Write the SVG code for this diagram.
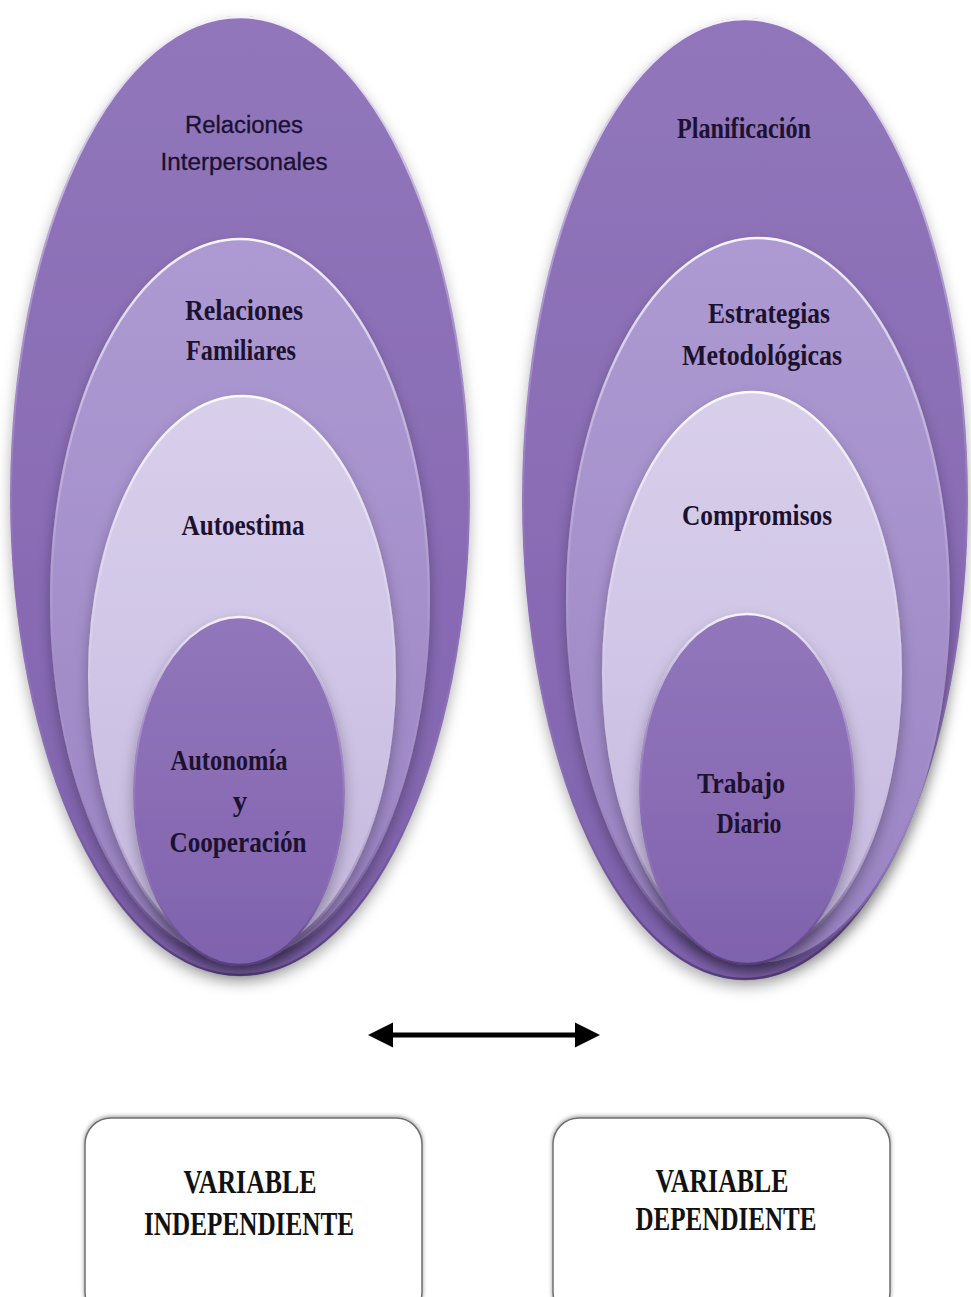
<svg xmlns="http://www.w3.org/2000/svg" width="971" height="1297" viewBox="0 0 971 1297">
<defs>
<linearGradient id="gDark" x1="0" y1="0" x2="0" y2="1">
<stop offset="0" stop-color="#9176bb"/><stop offset="0.5" stop-color="#8a6db5"/><stop offset="1" stop-color="#7f62ad"/>
</linearGradient>
<linearGradient id="gMid" x1="0" y1="0" x2="0" y2="1">
<stop offset="0" stop-color="#ad9ad2"/><stop offset="0.5" stop-color="#a590cb"/><stop offset="1" stop-color="#9a83c3"/>
</linearGradient>
<linearGradient id="gLight" x1="0" y1="0" x2="0" y2="1">
<stop offset="0" stop-color="#d8cfeb"/><stop offset="0.5" stop-color="#d0c5e6"/><stop offset="1" stop-color="#c4b7dd"/>
</linearGradient>
<linearGradient id="rim" x1="0" y1="0" x2="0" y2="1">
<stop offset="0" stop-color="#ffffff" stop-opacity="0.9"/><stop offset="0.25" stop-color="#ffffff" stop-opacity="0.3"/><stop offset="0.6" stop-color="#ffffff" stop-opacity="0"/><stop offset="0.9" stop-color="#4a3470" stop-opacity="0.35"/><stop offset="1" stop-color="#3a2660" stop-opacity="0.6"/>
</linearGradient>
<filter id="sh" x="-20%" y="-10%" width="140%" height="130%">
<feDropShadow dx="0" dy="7" stdDeviation="7" flood-color="#000" flood-opacity="0.3"/>
</filter>
<filter id="bsh" x="-10%" y="-10%" width="120%" height="130%">
<feDropShadow dx="0" dy="-1" stdDeviation="2" flood-color="#000" flood-opacity="0.4"/>
</filter>
<marker id="ah" viewBox="0 0 10 10" refX="2" refY="5" markerWidth="5" markerHeight="7.2" markerUnits="strokeWidth" orient="auto-start-reverse">
<path d="M0,0 L10,5 L0,10 Z" fill="#000"/>
</marker>
</defs>
<style>
.dark{fill:url(#gDark);filter:url(#sh)}
.mid{fill:url(#gMid);filter:url(#sh)}
.light{fill:url(#gLight);filter:url(#sh)}
.rim{fill:none;stroke:url(#rim);stroke-width:2.5}
.sans{font-family:"Liberation Sans",Arial,sans-serif;font-size:23px;fill:#1a1030;stroke:#1a1030;stroke-width:0.3;text-anchor:middle}
.ser{font-family:"Liberation Serif","Times New Roman",serif;font-weight:bold;font-size:29px;fill:#1c1230;text-anchor:middle}
.box{fill:#ffffff;stroke:#6f6f6f;stroke-width:1.5;filter:url(#bsh)}
.bt{font-family:"Liberation Serif","Times New Roman",serif;font-weight:bold;font-size:33px;fill:#111;text-anchor:middle}
</style>
<rect width="971" height="1297" fill="#ffffff"/>

<g id="left-outer">
<ellipse class="dark" cx="240" cy="496" rx="230" ry="480"/>
<ellipse class="rim" cx="240" cy="496" rx="229" ry="479"/>
<text class="sans" x="244" y="133" textLength="118" lengthAdjust="spacingAndGlyphs">Relaciones</text>
<text class="sans" x="244" y="170" textLength="167" lengthAdjust="spacingAndGlyphs">Interpersonales</text>
</g>
<g id="left-second">
<ellipse class="mid" cx="240" cy="600" rx="190" ry="362"/>
<ellipse class="rim" cx="240" cy="600" rx="189" ry="361"/>
<text class="ser" x="244" y="320" textLength="118" lengthAdjust="spacingAndGlyphs">Relaciones</text>
<text class="ser" x="241" y="360" textLength="110" lengthAdjust="spacingAndGlyphs">Familiares</text>
</g>
<g id="left-third">
<ellipse class="light" cx="242" cy="676" rx="154" ry="281"/>
<ellipse class="rim" cx="242" cy="676" rx="153" ry="280"/>
<text class="ser" x="243" y="535" textLength="123" lengthAdjust="spacingAndGlyphs">Autoestima</text>
</g>
<g id="left-inner">
<ellipse class="dark" cx="239" cy="791" rx="106" ry="175"/>
<ellipse class="rim" cx="239" cy="791" rx="105" ry="174"/>
<text class="ser" x="229" y="770" textLength="117" lengthAdjust="spacingAndGlyphs">Autonomía</text>
<text class="ser" x="240" y="811">y</text>
<text class="ser" x="238" y="852" textLength="137" lengthAdjust="spacingAndGlyphs">Cooperación</text>
</g>

<g id="right-outer">
<ellipse class="dark" cx="745" cy="499" rx="223" ry="481"/>
<ellipse class="rim" cx="745" cy="499" rx="222" ry="480"/>
<text class="ser" x="744" y="138" textLength="134" lengthAdjust="spacingAndGlyphs">Planificación</text>
</g>
<g id="right-second">
<ellipse class="mid" cx="758" cy="601" rx="192" ry="364"/>
<ellipse class="rim" cx="758" cy="601" rx="191" ry="363"/>
<text class="ser" x="769" y="323" textLength="122" lengthAdjust="spacingAndGlyphs">Estrategias</text>
<text class="ser" x="762" y="365" textLength="160" lengthAdjust="spacingAndGlyphs">Metodológicas</text>
</g>
<g id="right-third">
<ellipse class="light" cx="752" cy="673" rx="150" ry="282"/>
<ellipse class="rim" cx="752" cy="673" rx="149" ry="281"/>
<text class="ser" x="757" y="525" textLength="150" lengthAdjust="spacingAndGlyphs">Compromisos</text>
</g>
<g id="right-inner">
<ellipse class="dark" cx="747" cy="789" rx="108" ry="176"/>
<ellipse class="rim" cx="747" cy="789" rx="107" ry="175"/>
<text class="ser" x="741" y="793" textLength="88" lengthAdjust="spacingAndGlyphs">Trabajo</text>
<text class="ser" x="749" y="833" textLength="65" lengthAdjust="spacingAndGlyphs">Diario</text>
</g>

<g id="connectors">
<line x1="388" y1="1035" x2="580" y2="1035" stroke="#000" stroke-width="5" marker-start="url(#ah)" marker-end="url(#ah)"/>
</g>

<g id="box-independiente">
<rect class="box" x="85" y="1118" width="337" height="200" rx="26"/>
<text class="bt" x="250" y="1193" textLength="133" lengthAdjust="spacingAndGlyphs">VARIABLE</text>
<text class="bt" x="249" y="1235" textLength="210" lengthAdjust="spacingAndGlyphs">INDEPENDIENTE</text>
</g>
<g id="box-dependiente">
<rect class="box" x="553" y="1118" width="337" height="200" rx="26"/>
<text class="bt" x="722" y="1192" textLength="133" lengthAdjust="spacingAndGlyphs">VARIABLE</text>
<text class="bt" x="726" y="1230" textLength="181" lengthAdjust="spacingAndGlyphs">DEPENDIENTE</text>
</g>
</svg>
